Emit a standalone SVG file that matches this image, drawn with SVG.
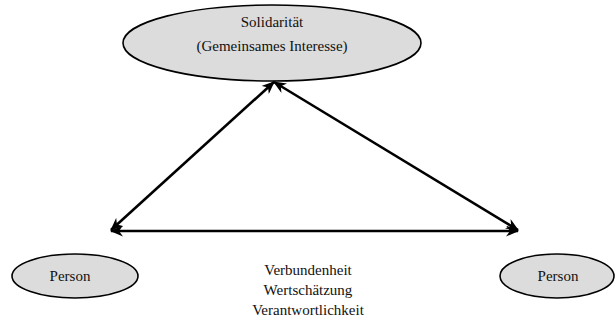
<svg xmlns="http://www.w3.org/2000/svg" width="616" height="331" viewBox="0 0 616 331">
<style>
.node ellipse{fill:#dcdcdc;stroke:#000;stroke-width:1.6}
text{font-family:"Liberation Serif",serif;font-size:15px;fill:#111;text-anchor:middle}
.conn line{stroke:#000;stroke-width:2.6}
</style>
<defs>
<marker id="ah" viewBox="0 0 13 11" refX="12" refY="5.5" markerWidth="13" markerHeight="11" markerUnits="userSpaceOnUse" orient="auto-start-reverse">
<path d="M0,0 L13,5.5 L0,11 L4,5.5 Z" fill="#000"/>
</marker>
</defs>
<rect width="616" height="331" fill="#fff"/>
<g id="solidaritaet" class="node">
<ellipse cx="272" cy="43" rx="149" ry="38"/>
<text x="272" y="27">Solidarität</text>
<text x="272" y="51">(Gemeinsames Interesse)</text>
</g>
<g id="person-left" class="node">
<ellipse cx="75" cy="276" rx="63" ry="22"/>
<text x="70" y="281">Person</text>
</g>
<g id="person-right" class="node">
<ellipse cx="557" cy="276" rx="57" ry="22"/>
<text x="558" y="281">Person</text>
</g>
<g id="werte" class="node">
<text x="308" y="275">Verbundenheit</text>
<text x="308" y="295">Wertschätzung</text>
<text x="308" y="315">Verantwortlichkeit</text>
</g>
<g id="connectors" class="conn">
<line x1="274" y1="82" x2="111" y2="230" marker-start="url(#ah)" marker-end="url(#ah)"/>
<line x1="274" y1="82" x2="518" y2="230" marker-start="url(#ah)" marker-end="url(#ah)"/>
<line x1="111" y1="231" x2="518" y2="231" marker-start="url(#ah)" marker-end="url(#ah)"/>
</g>
</svg>
